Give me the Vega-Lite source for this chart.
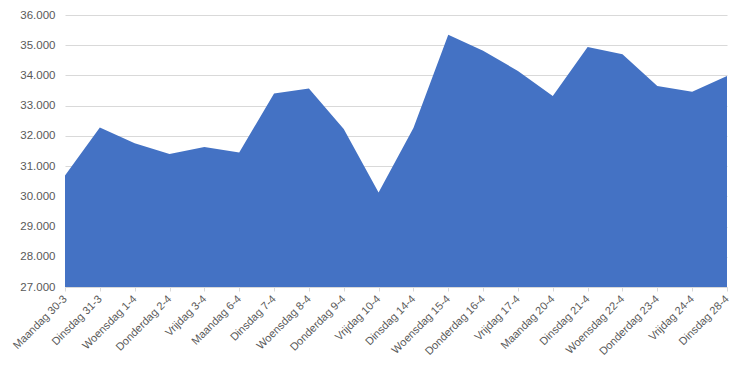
{
  "$schema": "https://vega.github.io/schema/vega-lite/v6.json",
  "width": 662,
  "height": 272,
  "autosize": "none",
  "padding": {"left": 65, "top": 15, "right": 26, "bottom": 84},
  "background": "white",
  "config": {
    "view": {"stroke": null},
    "font": "Liberation Sans"
  },
  "data": {
    "values": [
      {"dag": "Maandag 30-3", "waarde": 30690},
      {"dag": "Dinsdag 31-3", "waarde": 32280},
      {"dag": "Woensdag 1-4", "waarde": 31760},
      {"dag": "Donderdag 2-4", "waarde": 31400},
      {"dag": "Vrijdag 3-4", "waarde": 31630},
      {"dag": "Maandag 6-4", "waarde": 31450},
      {"dag": "Dinsdag 7-4", "waarde": 33400},
      {"dag": "Woensdag 8-4", "waarde": 33570},
      {"dag": "Donderdag 9-4", "waarde": 32230},
      {"dag": "Vrijdag 10-4", "waarde": 30130},
      {"dag": "Dinsdag 14-4", "waarde": 32260},
      {"dag": "Woensdag 15-4", "waarde": 35350},
      {"dag": "Donderdag 16-4", "waarde": 34820},
      {"dag": "Vrijdag 17-4", "waarde": 34150},
      {"dag": "Maandag 20-4", "waarde": 33320},
      {"dag": "Dinsdag 21-4", "waarde": 34940},
      {"dag": "Woensdag 22-4", "waarde": 34700},
      {"dag": "Donderdag 23-4", "waarde": 33650},
      {"dag": "Vrijdag 24-4", "waarde": 33460},
      {"dag": "Dinsdag 28-4", "waarde": 33980}
    ]
  },
  "mark": {"type": "area", "color": "#4472C4", "opacity": 1, "clip": true},
  "encoding": {
    "x": {
      "field": "dag",
      "type": "ordinal",
      "sort": null,
      "scale": {"type": "point", "padding": 0},
      "title": null,
      "axis": {
        "labelAngle": -45,
        "labelAlign": "right",
        "labelBaseline": "middle",
        "labelFontSize": 11,
        "labelColor": "#595959",
        "labelPadding": 6,
        "domainColor": "#d9d9d9",
        "tickColor": "#d9d9d9",
        "tickSize": 4,
        "grid": false
      }
    },
    "y": {
      "field": "waarde",
      "type": "quantitative",
      "scale": {"domain": [27000, 36000], "nice": false, "zero": false},
      "title": null,
      "axis": {
        "values": [27000, 28000, 29000, 30000, 31000, 32000, 33000, 34000, 35000, 36000],
        "labelExpr": "replace(format(datum.value, ',.0f'), ',', '.')",
        "labelFontSize": 11.5,
        "labelColor": "#595959",
        "labelPadding": 10,
        "domain": false,
        "ticks": false,
        "grid": true,
        "gridColor": "#d9d9d9",
        "gridWidth": 1
      }
    },
    "y2": {"datum": 27000}
  }
}
